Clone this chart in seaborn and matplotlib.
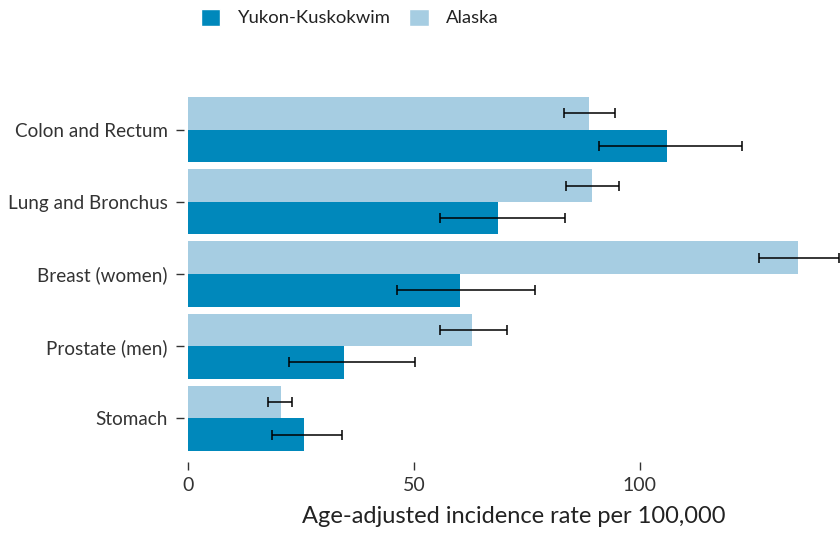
import matplotlib
matplotlib.use("Agg")
import matplotlib.pyplot as plt
from matplotlib.patches import Patch
import seaborn as sns
import pandas as pd

sites = ["Colon and Rectum", "Lung and Bronchus", "Breast (women)",
         "Prostate (men)", "Stomach"]
regions = ["Alaska", "Yukon-Kuskokwim"]

alaska_rate = [88.7, 89.4, 135.0, 62.8, 20.4]
alaska_low = [83.2, 83.6, 126.3, 55.7, 17.7]
alaska_high = [94.4, 95.3, 144.0, 70.5, 23.0]

yk_rate = [106.0, 68.5, 60.1, 34.4, 25.5]
yk_low = [90.9, 55.7, 46.2, 22.3, 18.5]
yk_high = [122.6, 83.4, 76.7, 50.2, 34.1]

colors = {"Alaska": "#a6cde2", "Yukon-Kuskokwim": "#0088bb"}

df = pd.DataFrame({
    "site": sites * 2,
    "region": ["Alaska"] * len(sites) + ["Yukon-Kuskokwim"] * len(sites),
    "rate": alaska_rate + yk_rate,
})
intervals = {
    "Alaska": (alaska_rate, alaska_low, alaska_high),
    "Yukon-Kuskokwim": (yk_rate, yk_low, yk_high),
}

sns.set_theme(style="white")
plt.rcParams["font.family"] = ["Lato", "DejaVu Sans"]

fig = plt.figure(figsize=(8.4, 5.37), dpi=100)
ax = fig.add_axes([188.4 / 840, 1 - 454.6 / 537, 1 - 188.4 / 840, (454.6 - 93.4) / 537])

sns.barplot(data=df, x="rate", y="site", hue="region", order=sites,
            hue_order=regions, palette=colors, width=0.9, errorbar=None,
            saturation=1, linewidth=0, legend=False, ax=ax)

# confidence intervals drawn at the centre of each bar
for container, region in zip(ax.containers, regions):
    rate, low, high = intervals[region]
    ys = [p.get_y() + p.get_height() / 2 for p in container.patches]
    xerr = [[r - lo for r, lo in zip(rate, low)],
            [hi - r for r, hi in zip(rate, high)]]
    ax.errorbar(rate, ys, xerr=xerr, fmt="none", ecolor="black",
                elinewidth=1.1, capsize=3.5, capthick=1.1, zorder=3)

ax.set_xlim(0, 144.3)
ax.set_ylim(4.5, -0.5)
ax.set_xticks([0, 50, 100])
ax.set_ylabel("")
ax.set_xlabel("Age-adjusted incidence rate per 100,000", fontsize=17,
              color="#222222", labelpad=9)

for side in ["top", "right", "left", "bottom"]:
    ax.spines[side].set_visible(False)
ax.spines["left"].set_position(("outward", 3.3))
ax.spines["bottom"].set_position(("outward", 5.0))

ax.tick_params(axis="y", left=True, length=6, width=1, color="#333333",
               pad=5.5, labelsize=13.6, labelcolor="#333333")
ax.tick_params(axis="x", bottom=True, length=6, width=1, color="#333333",
               pad=5.0, labelsize=14, labelcolor="#333333")

handles = [Patch(facecolor=colors["Yukon-Kuskokwim"], label="Yukon-Kuskokwim"),
           Patch(facecolor=colors["Alaska"], label="Alaska")]
fig.legend(handles=handles, loc="center left",
           bbox_to_anchor=(201 / 840, 1 - 17.5 / 537), ncol=2, frameon=False,
           fontsize=13.3, handlelength=1.05, handleheight=1.05, handletextpad=0.95,
           columnspacing=1.0, borderpad=0, borderaxespad=0,
           labelcolor="#222222")

fig.savefig("out.png", dpi=100)
